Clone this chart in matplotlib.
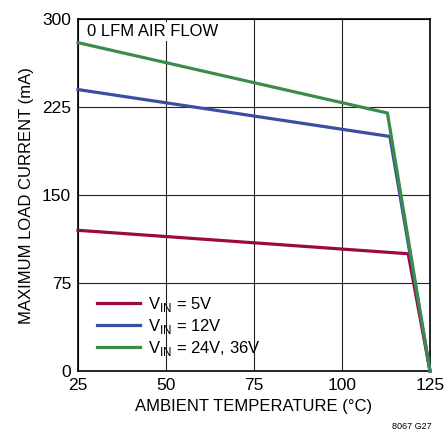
import matplotlib
matplotlib.use("Agg")
import matplotlib.pyplot as plt
from matplotlib import font_manager

names = {f.name for f in font_manager.fontManager.ttflist}
fam = "Liberation Sans Narrow" if "Liberation Sans Narrow" in names else "Liberation Sans"
plt.rcParams['font.family'] = [fam, 'DejaVu Sans']
plt.rcParams['mathtext.fontset'] = 'custom'
plt.rcParams['mathtext.rm'] = fam

temp_5v = [25, 118.8, 125]
cur_5v = [120, 100, 0]
temp_12v = [25, 113.6, 125]
cur_12v = [240, 200, 0]
temp_24v = [25, 112.9, 125]
cur_24v = [280, 220, 0]
labels = [r"$\mathrm{V}_{\mathrm{IN}}$ = 5V", r"$\mathrm{V}_{\mathrm{IN}}$ = 12V", r"$\mathrm{V}_{\mathrm{IN}}$ = 24V, 36V"]
colors = ["#9c0a3c", "#3b4fa2", "#3a8b4c"]
xticks = [25, 50, 75, 100, 125]
yticks = [0, 75, 150, 225, 300]

fig = plt.figure(figsize=(4.47, 4.36), dpi=100)
ax = fig.add_axes([0.1745, 0.149, 0.7875, 0.807])
for t, c, lab, col in zip([temp_5v, temp_12v, temp_24v], [cur_5v, cur_12v, cur_24v], labels, colors):
    ax.plot(t, c, color=col, lw=2.3, label=lab, solid_joinstyle='miter', clip_on=False, zorder=3)
ax.set_xlim(25, 125)
ax.set_ylim(0, 300)
ax.set_xticks(xticks)
ax.set_yticks(yticks)
ax.grid(True, color='#222222', lw=0.8)
for s in ax.spines.values():
    s.set_linewidth(1.2)
ax.tick_params(length=0, labelsize=12.5, pad=5)
ax.set_xlabel("AMBIENT TEMPERATURE (°C)", fontsize=12, labelpad=4)
ax.set_ylabel("MAXIMUM LOAD CURRENT (mA)", fontsize=12, labelpad=6)
ax.text(0.025, 0.985, "0 LFM AIR FLOW", transform=ax.transAxes, fontsize=12, va='top', ha='left',
        bbox=dict(facecolor='white', edgecolor='none', pad=1.5), zorder=4)
leg = ax.legend(loc='lower left', bbox_to_anchor=(0.02, 0.003), frameon=False, fontsize=12,
                handlelength=2.6, handletextpad=0.5, labelspacing=0.2, borderaxespad=0.3)
fig.text(0.965, 0.012, "8067 G27", fontsize=6.5, ha='right', va='bottom')
fig.savefig("out.png", dpi=100)
